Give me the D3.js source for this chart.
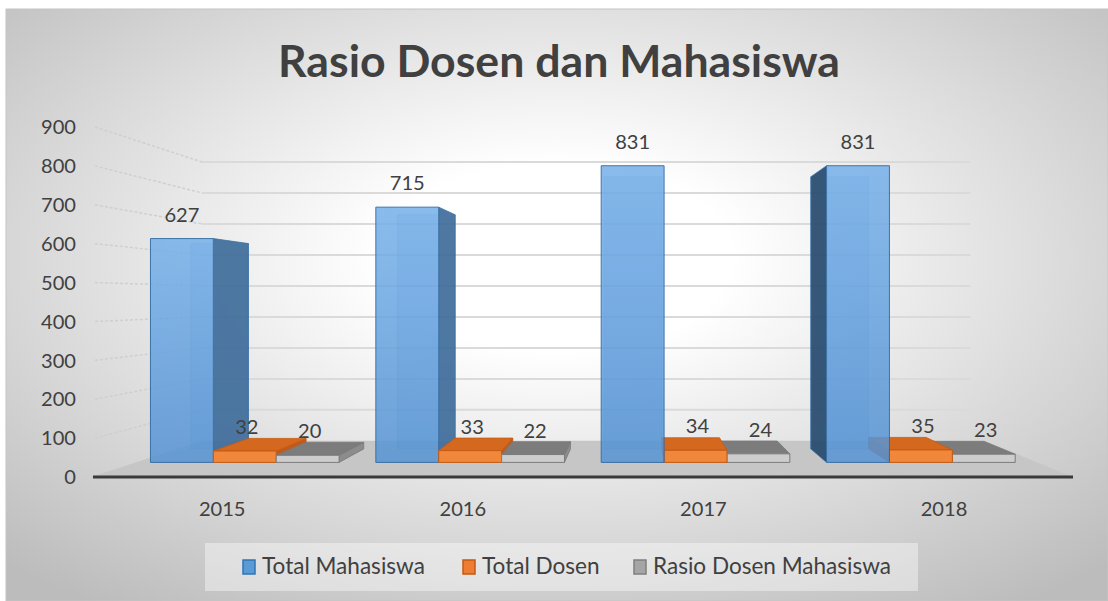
<!DOCTYPE html>
<html><head><meta charset="utf-8">
<script src="https://cdn.jsdelivr.net/npm/d3@7"></script>
<style>html,body{margin:0;padding:0;background:#fff;} svg{display:block;}</style>
</head><body><svg id="chart" width="1108" height="601"></svg>
<script>
const categories = ["2015","2016","2017","2018"];
const seriesNames = ["Total Mahasiswa","Total Dosen","Rasio Dosen Mahasiswa"];
const totalMahasiswa = [627,715,831,831];
const totalDosen = [32,33,34,35];
const rasioDosenMahasiswa = [20,22,24,23];
const yTicks = [0,100,200,300,400,500,600,700,800,900];
const titleText = "Rasio Dosen dan Mahasiswa";

const seriesValues = [totalMahasiswa, totalDosen, rasioDosenMahasiswa];
const FONT = "Lato, 'Open Sans', sans-serif";
const TXT = "#404040";
const VP = {x:637, y:299};
const S_BACK = 0.797, S_BF = 0.918, S_BB = 0.842;

const svg = d3.select("#chart");
const defs = svg.append("defs");

const bg = defs.append("radialGradient").attr("id","bg")
  .attr("cx",0.5).attr("cy",0.42).attr("r",0.72);
bg.append("stop").attr("offset",0).attr("stop-color","#ffffff");
bg.append("stop").attr("offset",0.22).attr("stop-color","#ffffff");
bg.append("stop").attr("offset",1).attr("stop-color","#bcbcbc");

const blueGrad = defs.append("linearGradient").attr("id","blueFront")
  .attr("x1",0).attr("y1",0).attr("x2",0).attr("y2",1);
blueGrad.append("stop").attr("offset",0).attr("stop-color","#76b0ea");
blueGrad.append("stop").attr("offset",1).attr("stop-color","#5694d4");

svg.append("rect").attr("x",6).attr("y",9).attr("width",1102).attr("height",592)
  .attr("fill","url(#bg)").attr("stroke","#c4c4c4").attr("stroke-width",1);

const y = d3.scaleLinear().domain([0,900]).range([477,127]);
const x = d3.scaleBand().domain(categories).range([91,1073]).padding(0);
const xs = d3.scaleBand().domain(seriesNames).range([16, 16+3*68.5]);
const X_MIN = 91, X_MAX = 1073;
function P(X, v, s){ return [VP.x + s*(X-VP.x), VP.y + s*(y(v)-VP.y)]; }
const line = pts => "M" + pts.map(p=>p.join(",")).join("L") + "Z";

// floor
svg.append("path")
  .attr("d", line([P(X_MIN,0,1),P(X_MAX,0,1),P(X_MAX,0,S_BACK),P(X_MIN,0,S_BACK)]))
  .attr("fill","#c6c6c6");

// back wall gridlines + side wall dashed lines
const grid = svg.append("g");
yTicks.filter(t=>t>0).forEach(t=>{
  const a = P(X_MIN,t,S_BACK), b = P(X_MAX,t,S_BACK), f = P(X_MIN,t,1);
  grid.append("line").attr("x1",a[0]).attr("y1",a[1]).attr("x2",b[0]-14).attr("y2",b[1])
    .attr("stroke","#dadada").attr("stroke-width",2);
  grid.append("line").attr("x1",f[0]+4).attr("y1",f[1]).attr("x2",a[0]).attr("y2",a[1])
    .attr("stroke","#cfcfcf").attr("stroke-width",1.5).attr("stroke-dasharray","3,2");
});

// axis line
svg.append("line").attr("x1",P(X_MIN,0,1)[0]+2).attr("y1",y(0)).attr("x2",P(X_MAX,0,1)[0]).attr("y2",y(0))
  .attr("stroke","#3a3a3a").attr("stroke-width",3);

// bars
const styles = [
  {front:"url(#blueFront)", side:"#3f6d9b", sideL:"#264a6e", top:"#7fb5e8", stroke:"#2f6aa3", op:0.92},
  {front:"#f0873a", side:"#c05a18", sideL:"#c05a18", top:"#d4681f", stroke:"#c55a11", op:1},
  {front:"#cdcdcd", side:"#8c8c8c", sideL:"#8c8c8c", top:"#7c7c7c", stroke:"#7a7a7a", op:1}
];
const bars = [];
categories.forEach((c,i)=>seriesNames.forEach((n,j)=>{
  const X0 = x(c)+xs(n), X1 = X0 + xs.bandwidth();
  bars.push({c, j, X0, X1, v: seriesValues[j][i]});
}));
bars.sort((a,b)=>Math.abs((b.X0+b.X1)/2-VP.x)-Math.abs((a.X0+a.X1)/2-VP.x));
const gb = svg.append("g");
bars.forEach(b=>{
  const st = styles[b.j], g = gb.append("g").attr("opacity",st.op);
  if (b.j===0) {
    g.append("path").attr("d", line([P(b.X0,0,S_BB),P(b.X1,0,S_BB),P(b.X1,b.v,S_BB),P(b.X0,b.v,S_BB)]))
      .attr("fill","#4d88c4").attr("fill-opacity",0.5).attr("stroke",st.stroke).attr("stroke-opacity",0.5);
  }
  if (b.X1 < VP.x) {
    g.append("path").attr("d", line([P(b.X1,0,S_BF),P(b.X1,0,S_BB),P(b.X1,b.v,S_BB),P(b.X1,b.v,S_BF)]))
      .attr("fill",st.side).attr("stroke",st.stroke).attr("stroke-width",0.8);
  }
  if (b.X0 > VP.x) {
    g.append("path").attr("d", line([P(b.X0,0,S_BF),P(b.X0,0,S_BB),P(b.X0,b.v,S_BB),P(b.X0,b.v,S_BF)]))
      .attr("fill",st.sideL).attr("stroke",st.stroke).attr("stroke-width",0.8);
  }
  if (y(b.v) > VP.y) {
    g.append("path").attr("d", line([P(b.X0,b.v,S_BF),P(b.X1,b.v,S_BF),P(b.X1,b.v,S_BB),P(b.X0,b.v,S_BB)]))
      .attr("fill",st.top).attr("stroke",st.stroke).attr("stroke-width",0.8);
  }
  g.append("path").attr("d", line([P(b.X0,0,S_BF),P(b.X1,0,S_BF),P(b.X1,b.v,S_BF),P(b.X0,b.v,S_BF)]))
    .attr("fill",st.front).attr("fill-opacity", b.j===0?0.92:1).attr("stroke",st.stroke).attr("stroke-width",1);
});

function fit(sel, target, base){
  sel.attr("font-size", base);
  const w = sel.node().getComputedTextLength();
  const fs = base*target/w; sel.attr("font-size", fs); return fs;
}

// data labels
const probe = svg.append("text").attr("font-family",FONT).text("627");
const labFs = fit(probe, 35, 20); probe.remove();
const gl = svg.append("g").attr("font-family",FONT).attr("font-size",labFs).attr("fill",TXT).attr("text-anchor","middle");
bars.forEach(b=>{
  const p = P((b.X0+b.X1)/2, b.v, S_BF);
  gl.append("text").attr("x", p[0] + (b.j>0?2:0)).attr("y", p[1] - 17).text(b.v);
});

// y tick labels
const gy = svg.append("g").attr("font-family",FONT).attr("font-size",labFs).attr("fill",TXT).attr("text-anchor","end");
yTicks.forEach(t=>{
  gy.append("text").attr("x",76).attr("y",y(t)).attr("dy","0.36em").text(t);
});

// category labels
const gc = svg.append("g").attr("font-family",FONT).attr("font-size",labFs).attr("fill",TXT).attr("text-anchor","middle");
categories.forEach(c=>{
  const cx = VP.x + 0.98*(x(c)+x.bandwidth()/2 - VP.x);
  gc.append("text").attr("x",cx).attr("y",516).text(c);
});

// title
const t = svg.append("text").attr("x",559).attr("y",77).attr("text-anchor","middle")
  .attr("font-family",FONT).attr("font-weight","bold").attr("fill",TXT).text(titleText);
fit(t, 562, 40);

// legend
svg.append("rect").attr("x",205).attr("y",543).attr("width",713).attr("height",48)
  .attr("fill","#ffffff").attr("fill-opacity",0.4);
const legX = [243, 463, 634];
const legFill = ["#5b9bd5","#ed7d31","#a5a5a5"];
const legStroke = ["#2e75b6","#c55a11","#7f7f7f"];
const gLeg = svg.append("g").attr("font-family",FONT).attr("fill",TXT);
let legFs = null;
seriesNames.forEach((n,i)=>{
  gLeg.append("rect").attr("x",legX[i]).attr("y",560).attr("width",12).attr("height",14)
    .attr("fill",legFill[i]).attr("stroke",legStroke[i]).attr("stroke-width",1.5);
  const tx = gLeg.append("text").attr("x",legX[i]+19).attr("y",574).text(n);
  if (legFs===null) legFs = fit(tx, 163, 20); else tx.attr("font-size",legFs);
});
</script></body></html>
